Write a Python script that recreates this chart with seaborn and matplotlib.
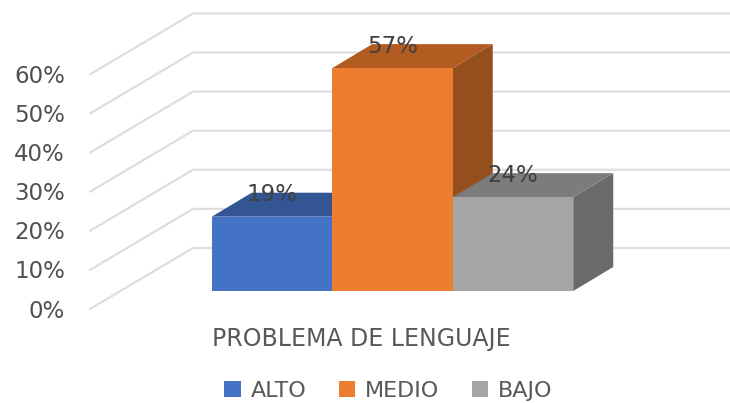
import pandas as pd
import seaborn as sns
import matplotlib.pyplot as plt
from matplotlib.patches import Polygon

# values
categories = ['ALTO', 'MEDIO', 'BAJO']
values = [19, 57, 24]
tick_values = [0, 10, 20, 30, 40, 50, 60]
colors = ['#4472C4', '#ED7D31', '#A5A5A5']
top_colors = ['#335593', '#B35C22', '#7C7C7C']
side_colors = ['#2F5082', '#954F1C', '#6A6A6A']
x_title = 'PROBLEMA DE LENGUAJE'

df = pd.DataFrame({'nivel': categories, 'pct': values})

sns.set_theme(style='white')
plt.rcParams['font.family'] = ['DejaVu Sans']

fig = plt.figure(figsize=(7.3, 4.03), dpi=100)
ax = fig.add_axes([0, 0, 1, 1])
sns.barplot(x='nivel', y='pct', hue='nivel', data=df, palette=colors, width=1,
            dodge=False, saturation=1, legend=True, linewidth=0, ax=ax, zorder=5)

# one data unit: 120.5 px across, 3.91 px up
ax.set_xlim(-272 / 120.5, 458 / 120.5)
ax.set_ylim(-112 / 3.91, 291 / 3.91)
ax.axis('off')

# fake 3d: depth of the bars and of the floor
depth_x = 40 / 120.5
depth_y = 24 / 3.91
wall_x = -79 / 120.5
wall_y = 43 / 3.91
left_x = -182 / 120.5
left_y = -18 / 3.91
right_x = ax.get_xlim()[1]
text_drop = 2 / 3.91

for t in tick_values:
    ax.plot([left_x, wall_x, right_x], [t + left_y, t + wall_y, t + wall_y],
            color='#DEDEDE', lw=1.6, zorder=1, solid_joinstyle='miter')
    ax.text(left_x - 0.207, t + left_y - text_drop, f'{t}%', ha='right', va='center',
            fontsize=16.5, color='#505050')

bars = [p for c in ax.containers for p in c if p.get_height() > 0]
for i, bar in enumerate(bars):
    x0 = bar.get_x()
    x1 = x0 + bar.get_width()
    h = bar.get_height()
    ax.add_patch(Polygon([(x1, 0), (x1 + depth_x, depth_y), (x1 + depth_x, h + depth_y), (x1, h)],
                         facecolor=side_colors[i], edgecolor='none', zorder=2 + i * 0.1))
    ax.add_patch(Polygon([(x0, h), (x0 + depth_x, h + depth_y), (x1 + depth_x, h + depth_y), (x1, h)],
                         facecolor=top_colors[i], edgecolor='none', zorder=2.05 + i * 0.1))
    ax.text((x0 + x1) / 2, h + depth_y - text_drop, f'{values[i]}%', ha='center', va='center',
            fontsize=16.5, color='#404040', zorder=6)

ax.text(0.495, 0.16, x_title, transform=ax.transAxes, ha='center', va='center',
        fontsize=17, color='#595959')

ax.legend(loc='center', bbox_to_anchor=(0.532, 0.03), ncol=3, frameon=False, fontsize=16,
          labelcolor='#595959', handlelength=0.75, handleheight=0.75, handletextpad=0.45,
          columnspacing=1.45, borderpad=0, title=None)

fig.savefig('out.png', dpi=100)
